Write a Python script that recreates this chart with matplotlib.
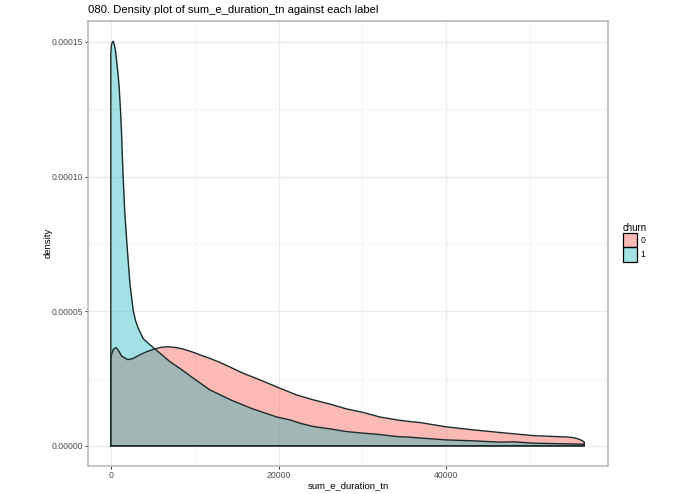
import matplotlib
matplotlib.use("Agg")
import matplotlib.pyplot as plt
import numpy as np
from matplotlib.patches import Patch

plt.rcParams["font.family"] = ["Liberation Sans", "DejaVu Sans"]

# values
x_churn0 = [0, 100, 300, 600, 900, 1300, 2030, 2700, 3460, 4300, 5250, 6000, 6650, 7600,
            8590, 9600, 10620, 11800, 13000, 14400, 15750, 17780, 20170, 22160, 24120,
            26130, 28120, 30100, 32100, 34090, 35680, 36880, 40000, 43200, 46420, 50370,
            53000, 54400, 55100, 55600, 56100, 56450]
y_churn0 = [3.27e-5, 3.4e-5, 3.58e-5, 3.65e-5, 3.55e-5, 3.33e-5, 3.2e-5, 3.25e-5, 3.38e-5,
            3.5e-5, 3.6e-5, 3.66e-5, 3.68e-5, 3.66e-5, 3.6e-5, 3.5e-5, 3.38e-5, 3.25e-5,
            3.1e-5, 2.9e-5, 2.7e-5, 2.45e-5, 2.14e-5, 1.89e-5, 1.71e-5, 1.55e-5, 1.37e-5,
            1.24e-5, 1.07e-5, 9.65e-6, 9.0e-6, 8.65e-6, 7.05e-6, 5.94e-6, 4.95e-6, 3.8e-6,
            3.45e-6, 3.3e-6, 3.05e-6, 2.7e-6, 2.1e-6, 1.48e-6]

x_churn1 = [0, 60, 150, 280, 420, 550, 680, 850, 990, 1158, 1280, 1396, 1470, 1670, 1945,
            2270, 2660, 2950, 3260, 3860, 4500, 5250, 6100, 7040, 8400, 9800, 11800, 14560,
            16950, 19800, 21360, 22550, 24120, 26130, 28120, 30100, 32100, 34090, 35680,
            40000, 43200, 46420, 48000, 50370, 53500, 56450]
y_churn1 = [1.46e-4, 1.485e-4, 1.497e-4, 1.503e-4, 1.49e-4, 1.47e-4, 1.433e-4, 1.385e-4,
            1.334e-4, 1.245e-4, 1.16e-4, 1.06e-4, 1.0e-4, 8.65e-5, 7.4e-5, 6.05e-5, 5.05e-5,
            4.65e-5, 4.38e-5, 3.98e-5, 3.8e-5, 3.6e-5, 3.38e-5, 3.13e-5, 2.84e-5, 2.52e-5,
            2.08e-5, 1.67e-5, 1.37e-5, 1.07e-5, 9.65e-6, 8.4e-6, 7.2e-6, 6.3e-6, 5.3e-6,
            4.7e-6, 4.2e-6, 3.45e-6, 3.2e-6, 2.2e-6, 1.86e-6, 1.37e-6, 1.5e-6, 1.0e-6,
            0.8e-6, 0.6e-6]

x_ticks = [0, 20000, 40000]
x_minor = [10000, 30000, 50000]
y_ticks = [0, 0.00005, 0.0001, 0.00015]
y_minor = [0.000025, 0.000075, 0.000125]
y_labels = ["0.00000", "0.00005", "0.00010", "0.00015"]

fig = plt.figure(figsize=(6.95, 4.94), dpi=100)
ax = fig.add_axes([88 / 695, 1 - 465.5 / 494, 520 / 695, 444.5 / 494])

ax.set_xlim(-2720, 59280)
ax.set_ylim(-7.3e-6, 1.578e-4)

# major and minor grid, theme_bw style
ax.set_xticks(x_ticks)
ax.set_yticks(y_ticks)
ax.set_yticklabels(y_labels)
ax.set_xticks(x_minor, minor=True)
ax.set_yticks(y_minor, minor=True)
ax.grid(True, which="major", color="#ebebeb", linewidth=0.9)
ax.grid(True, which="minor", color="#f0f0f0", linewidth=0.5)
ax.set_axisbelow(True)
ax.tick_params(which="minor", length=0)
ax.tick_params(which="major", length=2.2, width=0.7, color="#333333",
               labelsize=6.2, labelcolor="#4d4d4d", pad=1.5)

for spine in ax.spines.values():
    spine.set_color("#b4b4b4")
    spine.set_linewidth(1.1)

ax.fill_between(x_churn0, y_churn0, 0, color="#F8766D", alpha=0.5, linewidth=0)
ax.fill_between(x_churn1, y_churn1, 0, color="#0CB4B8", alpha=0.38, linewidth=0)

# outlines are closed along the baseline, like geom_density
for xs, ys in [(x_churn0, y_churn0), (x_churn1, y_churn1)]:
    ax.plot([xs[0]] + xs + [xs[-1], xs[0]], [0] + ys + [0, 0],
            color="#1c2b2b", linewidth=1.0, solid_joinstyle="round")

ax.set_xlabel("sum_e_duration_tn", fontsize=6.8, labelpad=1)
ax.set_ylabel("density", fontsize=6.8, labelpad=-0.8)
ax.set_title("080. Density plot of sum_e_duration_tn against each label",
             fontsize=8.12, loc="left", pad=5.5)

handles = [Patch(edgecolor="black", linewidth=0.9),
           Patch(edgecolor="black", linewidth=0.9)]
handles[0].set_facecolor((0.973, 0.463, 0.427, 0.5))
handles[1].set_facecolor((0.047, 0.706, 0.722, 0.38))
leg = fig.legend(handles, ["0", "1"], title="churn", loc="upper left",
                 bbox_to_anchor=(623 / 695, 1 - 222.5 / 494), frameon=False,
                 fontsize=6.2, title_fontsize=6.9, handlelength=1.65, handleheight=2.2,
                 labelspacing=0.03, borderpad=0, borderaxespad=0, handletextpad=0.4)
leg.get_title().set_ha("left")
leg._legend_box.align = "left"

fig.savefig("out.png", dpi=100)
